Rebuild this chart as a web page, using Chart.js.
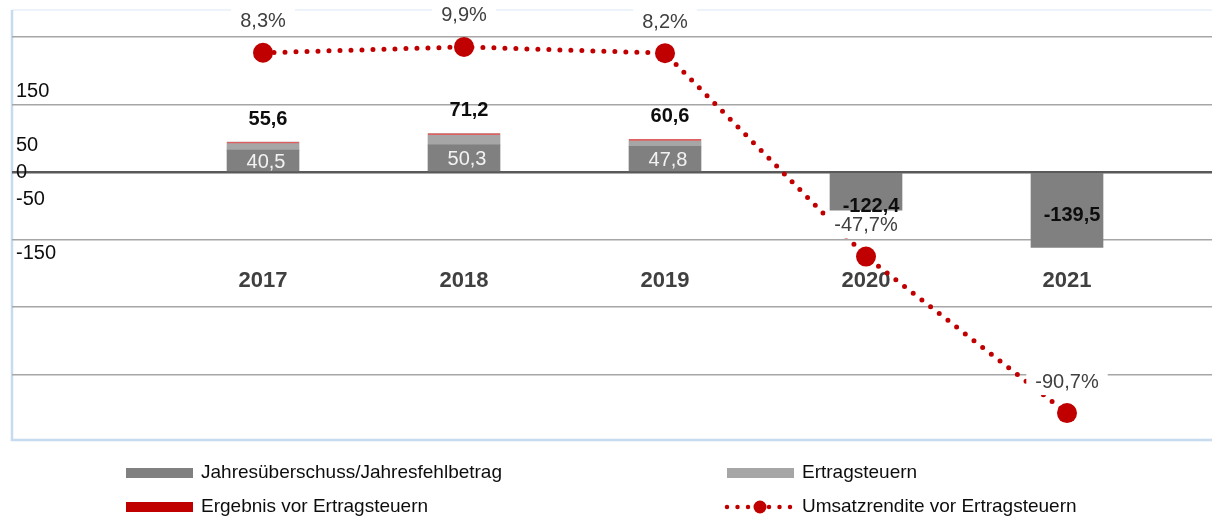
<!DOCTYPE html>
<html>
<head>
<meta charset="utf-8">
<script src="https://cdn.jsdelivr.net/npm/chart.js@4"></script>
<style>
  html, body { margin: 0; padding: 0; background: #fff; }
  #wrap { width: 1212px; height: 520px; position: relative; }
</style>
</head>
<body>
<div id="wrap"><canvas id="myChart"></canvas></div>
<script>
// ---- Data
const years = ['2017', '2018', '2019', '2020', '2021'];
const jahresueberschuss = [40.5, 50.3, 47.8, -70.4, -139.5];
const ertragsteuern = [15.1, 20.9, 12.8, null, null];
const ergebnisVorSteuern = [55.6, 71.2, 60.6, -122.4, -139.5];
const umsatzrendite = [8.3, 9.9, 8.2, -47.7, -90.7];
// left axis: labelled ticks and grid ticks
const yLabelTicks = [150, 50, 0, -50, -150];
const yGridTicks = [250, 125, 0, -125, -250, -375];

const FONT = '"Liberation Sans", Arial, sans-serif';

function fmt(v) { return v.toFixed(1).replace('.', ','); }
function pts(arr) { return arr.map((v, i) => ({ x: i, y: v })); }

// ---- chart frame (light blue box)
const framePlugin = {
  id: 'frame',
  beforeDraw(chart) {
    const c = chart.ctx, a = chart.chartArea;
    c.save();
    c.strokeStyle = '#edf3fa';
    c.lineWidth = 2;
    c.beginPath(); c.moveTo(a.left, a.top); c.lineTo(a.right, a.top); c.stroke();
    c.strokeStyle = '#c6dbef';
    c.lineWidth = 2.5;
    c.beginPath(); c.moveTo(a.left, a.top); c.lineTo(a.left, a.bottom); c.lineTo(a.right, a.bottom); c.stroke();
    c.restore();
  }
};

// ---- value labels
const labelPlugin = {
  id: 'valueLabels',
  afterDatasetsDraw(chart) {
    const c = chart.ctx;
    const xs = chart.scales.x, ys = chart.scales.y, ys1 = chart.scales.y1;
    c.save();
    c.textAlign = 'center';
    c.textBaseline = 'middle';
    // Umsatzrendite labels with white box
    years.forEach((yr, i) => {
      const cx = xs.getPixelForValue(i);
      const py = ys1.getPixelForValue(umsatzrendite[i]) - 31;
      const t = fmt(umsatzrendite[i]) + '%';
      c.font = '20px ' + FONT;
      const w = c.measureText(t).width;
      c.fillStyle = '#ffffff';
      c.fillRect(cx - w / 2 - 9, py - 13, w + 18, 26);
      c.fillStyle = '#404040';
      c.fillText(t, cx, py);
    });
    years.forEach((yr, i) => {
      const cx = xs.getPixelForValue(i);
      // white label inside dark bar
      if (jahresueberschuss[i] > 0) {
        c.font = '20px ' + FONT;
        c.fillStyle = '#f2f2f2';
        const my = (ys.getPixelForValue(0) + ys.getPixelForValue(jahresueberschuss[i])) / 2 + 1;
        c.fillText(fmt(jahresueberschuss[i]), cx + 3, my);
      }
      // bold Ergebnis vor Ertragsteuern
      const v = ergebnisVorSteuern[i];
      c.font = 'bold 20px ' + FONT;
      c.fillStyle = '#0d0d0d';
      c.fillText(fmt(v), cx + 5, ys.getPixelForValue(v) + (v >= 0 ? -23 : -32));
    });
    c.restore();
  }
};

// ---- legend (two columns)
const legendPlugin = {
  id: 'legend2',
  afterDraw(chart) {
    const c = chart.ctx;
    const pos = [[126, 473], [727, 473], [126, 507], [727, 507]];
    c.save();
    chart.data.datasets.forEach((ds, i) => {
      const [lx, ly] = pos[i];
      if (ds.type === 'line') {
        c.strokeStyle = ds.borderColor;
        c.lineWidth = 4.5;
        c.lineCap = 'round';
        c.setLineDash([0, 10.5]);
        c.beginPath(); c.moveTo(lx, ly); c.lineTo(lx + 66, ly); c.stroke();
        c.setLineDash([]);
        c.fillStyle = ds.borderColor;
        c.beginPath(); c.arc(lx + 33, ly, 6.5, 0, Math.PI * 2); c.fill();
      } else {
        c.fillStyle = ds.legendColor || ds.backgroundColor;
        c.fillRect(lx, ly - 5, 67, 10);
      }
      c.font = '19px ' + FONT;
      c.fillStyle = '#0d0d0d';
      c.textAlign = 'left';
      c.textBaseline = 'middle';
      c.fillText(ds.label, lx + 75, ly);
    });
    c.restore();
  }
};

const ctx = document.getElementById('myChart');
const myChart = new Chart(ctx, {
  data: {
    datasets: [{
      type: 'bar',
      label: 'Jahresüberschuss/Jahresfehlbetrag',
      data: pts(jahresueberschuss),
      backgroundColor: '#808080',
      stack: 'a',
      order: 2,
      barThickness: 72
    }, {
      type: 'bar',
      label: 'Ertragsteuern',
      data: pts(ertragsteuern),
      backgroundColor: '#a6a6a6',
      stack: 'a',
      order: 3,
      barThickness: 72
    }, {
      type: 'bar',
      label: 'Ergebnis vor Ertragsteuern',
      data: pts(ergebnisVorSteuern),
      backgroundColor: 'rgba(0,0,0,0)',
      legendColor: '#c00000',
      borderColor: '#e06060',
      borderWidth: { top: 1, right: 0, bottom: 0, left: 0 },
      stack: 'b',
      grouped: false,
      order: 1,
      barThickness: 72
    }, {
      type: 'line',
      label: 'Umsatzrendite vor Ertragsteuern',
      data: pts(umsatzrendite),
      yAxisID: 'y1',
      borderColor: '#c00000',
      borderWidth: 5,
      borderDash: [0, 11],
      borderCapStyle: 'round',
      pointRadius: 10,
      pointBackgroundColor: '#c00000',
      pointBorderWidth: 0,
      tension: 0,
      fill: false,
      order: 0
    }]
  },
  options: {
    responsive: true,
    maintainAspectRatio: false,
    animation: false,
    layout: { autoPadding: false, padding: { left: 4, top: 10, right: 0, bottom: 80 } },
    plugins: {
      legend: { display: false },
      tooltip: { enabled: false }
    },
    scales: {
      x: {
        type: 'linear',
        min: -1.2488,
        max: 4.7214,
        offset: false,
        stacked: true,
        position: { y: -178 },
        afterBuildTicks: (s) => { s.ticks = years.map((_, i) => ({ value: i })); },
        grid: { display: false, drawTicks: false },
        border: { display: false },
        ticks: {
          autoSkip: false,
          maxRotation: 0,
          padding: 0,
          color: '#404040',
          font: { family: FONT, size: 22, weight: 'bold' },
          callback: (v) => years[v] ?? ''
        }
      },
      y: {
        stacked: true,
        min: -496,
        max: 300,
        afterBuildTicks: (s) => {
          const all = Array.from(new Set(yGridTicks.concat(yLabelTicks))).sort((a, b) => b - a);
          s.ticks = all.map(v => ({ value: v }));
        },
        grid: {
          drawTicks: false,
          color: (c) => c.tick.value === 0 ? '#595959' : (c.tick.value % 125 === 0 ? '#a6a6a6' : 'rgba(0,0,0,0)'),
          lineWidth: (c) => c.tick.value === 0 ? 2.5 : 1.5
        },
        border: { display: false },
        ticks: {
          mirror: true,
          autoSkip: false,
          padding: 4,
          color: '#0d0d0d',
          font: { family: FONT, size: 20, lineHeight: 0.6 },
          callback: (v) => yLabelTicks.includes(v) ? String(v) : ''
        }
      },
      y1: {
        display: false,
        min: -98.1,
        max: 20.05
      }
    }
  },
  plugins: [framePlugin, labelPlugin, legendPlugin]
});
</script>
</body>
</html>
